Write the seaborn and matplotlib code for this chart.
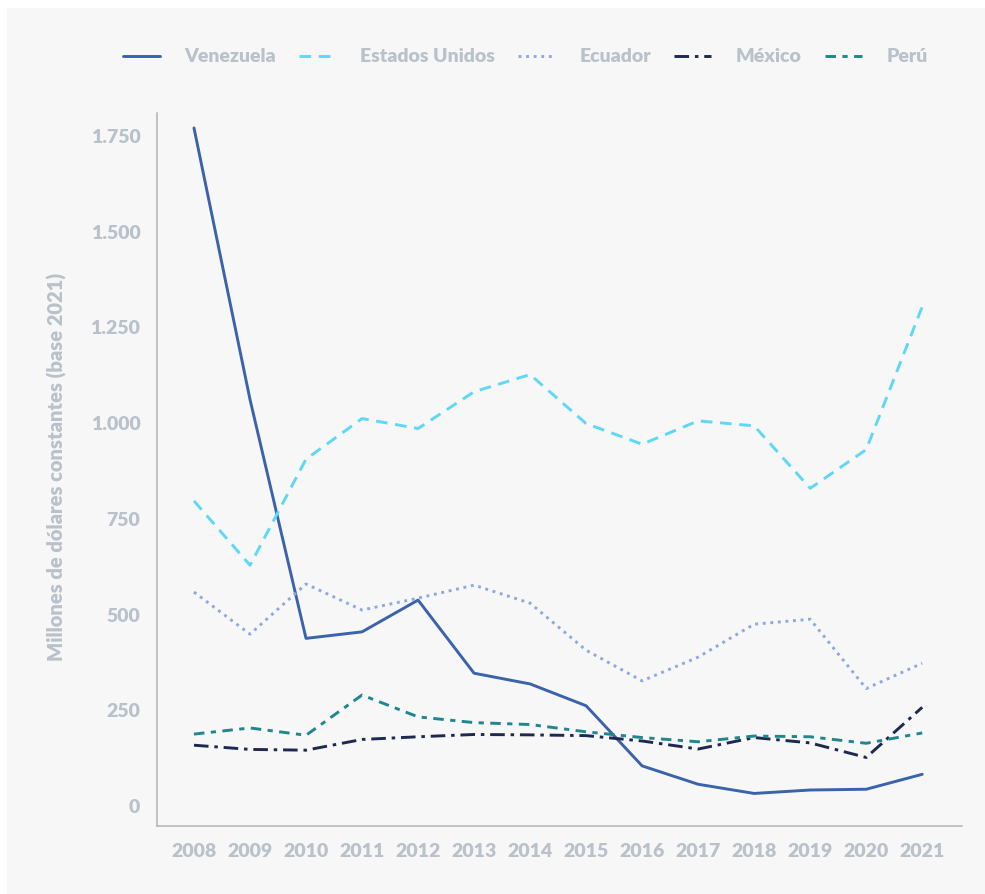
"""
Line chart: millones de dólares constantes (base 2021), 2008-2021,
for Venezuela, Estados Unidos, Ecuador, México and Perú.
"""

import pandas as pd
import seaborn as sns
import matplotlib.pyplot as plt
from matplotlib.patches import Rectangle

years = list(range(2008, 2022))

venezuela = [1771, 1062, 438, 455, 538, 347, 319, 262, 105, 57, 33, 42, 44, 83]
estados_unidos = [797, 629, 906, 1012, 986, 1082, 1127, 999, 945, 1006, 993,
                  830, 931, 1304]
ecuador = [559, 449, 580, 512, 543, 577, 530, 407, 327, 389, 475, 488, 307, 373]
mexico = [159, 148, 146, 174, 181, 187, 186, 184, 170, 149, 179, 165, 127, 258]
peru = [188, 204, 185, 290, 233, 218, 213, 194, 179, 168, 183, 181, 164, 191]

countries = ["Venezuela", "Estados Unidos", "Ecuador", "México", "Perú"]
y_ticks = [0, 250, 500, 750, 1000, 1250, 1500, 1750]
y_tick_labels = ["0", "250", "500", "750", "1.000", "1.250", "1.500", "1.750"]
y_title = "Millones de dólares constantes (base 2021)"

palette = {
    "Venezuela": "#3a62ad",
    "Estados Unidos": "#5fd8f7",
    "Ecuador": "#8ea9e2",
    "México": "#1e2950",
    "Perú": "#1f878d",
}
dashes = {
    "Venezuela": "",
    "Estados Unidos": (4, 2.6),
    "Ecuador": (1, 1.6),
    "México": (5, 2, 1.2, 2),
    "Perú": (3.6, 2.2, 1.8, 2.2),
}

BG = "#f7f7f7"
TEXT = "#b9c1cb"
WEIGHT = "heavy"


def build_frame():
    """Long-form table for seaborn."""
    values = [venezuela, estados_unidos, ecuador, mexico, peru]
    rows = []
    for name, series in zip(countries, values):
        for year, v in zip(years, series):
            rows.append({"Año": year, "Valor": v, "País": name})
    return pd.DataFrame(rows)


def main():
    sns.set_style("white")
    plt.rcParams['font.family'] = ['Lato', 'DejaVu Sans']

    data = build_frame()

    fig = plt.figure(figsize=(9.85, 8.94), dpi=100, facecolor="white")
    fig.patches.append(Rectangle((7 / 985, 0), 1, 1 - 8 / 894,
                                 transform=fig.transFigure, color=BG,
                                 zorder=-1))
    ax = fig.add_axes([157 / 985, 1 - 826 / 894, (962 - 157) / 985,
                       (826 - 113) / 894])
    ax.set_facecolor(BG)

    sns.lineplot(data=data, x="Año", y="Valor", hue="País", style="País",
                 hue_order=countries, style_order=countries,
                 palette=palette, dashes=dashes, linewidth=2.1, ax=ax)

    ax.set_xlim(2007.34, 2021.71)
    ax.set_ylim(-52, 1810)
    ax.set_xticks(years)
    ax.set_xticklabels([str(y) for y in years])
    ax.set_yticks(y_ticks)
    ax.set_yticklabels(y_tick_labels)
    ax.tick_params(axis="both", length=0, labelsize=14, labelcolor=TEXT)
    ax.tick_params(axis="y", pad=12)
    ax.tick_params(axis="x", pad=12)
    for lab in ax.get_xticklabels() + ax.get_yticklabels():
        lab.set_fontweight(WEIGHT)

    for side in ["top", "right"]:
        ax.spines[side].set_visible(False)
    for side in ["left", "bottom"]:
        ax.spines[side].set_color("#b3b3b3")
        ax.spines[side].set_linewidth(1.1)

    ax.set_xlabel("")
    ax.set_ylabel("")
    fig.text(57 / 985, 1 - 467 / 894, y_title, rotation=90, ha="center",
             va="center", fontsize=14.5, fontweight=WEIGHT, color=TEXT)

    handles, labels = ax.get_legend_handles_labels()
    ax.get_legend().remove()
    leg = fig.legend(handles, labels, loc="center",
                     bbox_to_anchor=(0.533, 1 - 57 / 894), ncol=5,
                     frameon=False, handlelength=1.9, handletextpad=1.25,
                     columnspacing=1.2, fontsize=14)
    for text in leg.get_texts():
        text.set_color(TEXT)
        text.set_fontweight(WEIGHT)

    fig.savefig("out.png", dpi=100, facecolor="white")


if __name__ == '__main__':
    main()
